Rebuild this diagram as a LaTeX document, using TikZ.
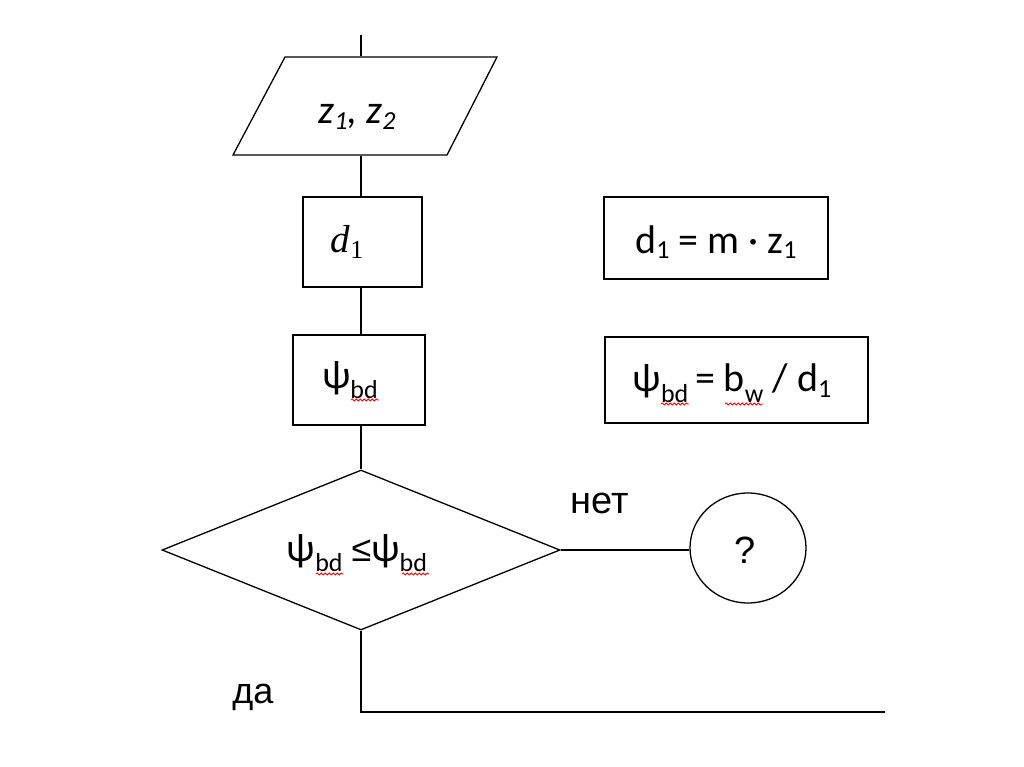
\documentclass[tikz,border=0pt]{standalone}
\usepackage{fontspec}
\setmainfont{Carlito}
\newfontfamily\arialf{Liberation Sans}
\newfontfamily\seriff{Liberation Serif}
\usetikzlibrary{shapes.geometric,decorations.pathmorphing}
\newcommand\sbs[1]{\raisebox{-0.3ex}{\fontsize{26}{30}\selectfont #1}}
\newcommand\sbb[1]{\raisebox{-0.55ex}{\fontsize{26}{30}\selectfont #1}}
\begin{document}
\begin{tikzpicture}[x=1pt,y=-1pt,
  line width=1.3pt,
  box/.style={draw, rectangle, inner sep=0pt},
  txt/.style={inner sep=0pt, font=\fontsize{40}{46}\selectfont},
  lbl/.style={inner sep=0pt, font=\arialf\fontsize{38}{44}\selectfont},
  squig/.style={red, line width=0.8pt, decorate, decoration={snake, amplitude=1.1pt, segment length=4pt}}]
\useasboundingbox (0,0) rectangle (1024,767);
\fill[white] (0,0) rectangle (1024,767);
% start
\coordinate (top) at (361,35);
% input parallelogram
\node[inner sep=0pt, minimum width=160, minimum height=98] (io) at (361,106) {};
\draw (285,57) -- (497,57) -- (447,155) -- (233,155) -- cycle;
\node[txt] (iot) at (357,117) {\textit{z\sbs{1}, z\sbs{2}}};
% process boxes
\node[box, minimum width=119, minimum height=90] (d) at (362.5,242) {};
\node[txt, font=\seriff\fontsize{39}{44}\selectfont] (dt) at (347,242) {\textit{d}\raisebox{-0.3ex}{\fontsize{26}{30}\selectfont 1}};
\node[box, minimum width=132, minimum height=90] (psi) at (359,380) {};
\node[txt] (psit) at (350,380) {ψ\sbb{bd}};
% formulas
\node[box, minimum width=224, minimum height=82] (f1) at (716,238) {};
\node[txt] (f1t) at (716,242) {d\sbs{1} = m · z\sbs{1}};
\node[box, minimum width=263, minimum height=86] (f2) at (736.5,380) {};
\node[txt] (f2t) at (732,383) {ψ\sbb{bd}\,= b\sbb{w} / d\sbs{1}};
% decision
\node[draw, diamond, inner sep=0pt, minimum width=398, minimum height=160] (dec) at (361,550) {};
\node[txt] (dect) at (357,553) {ψ\sbb{bd} {\arialf\fontsize{36}{42}\selectfont ≤}ψ\sbb{bd}};
% connector circle
\node[draw, ellipse, inner sep=0pt, minimum width=116, minimum height=110] (q) at (748,548) {};
\node[lbl] (qt) at (745,550) {?};
% labels
\node[lbl] (no) at (600,503) {нет};
\node[lbl, font=\arialf\fontsize{36}{42}\selectfont] (yes) at (253,697) {да};
\coordinate (end) at (885,712);
% connectors
\draw (top) -- (top |- io.north);
\draw (top |- io.south) -- (top |- d.north);
\draw (top |- d.south) -- (top |- psi.north);
\draw (top |- psi.south) -- (dec.north);
\draw (dec.east) -- (dec.east -| q.west);
\draw (dec.south) |- (end);
% spell-check marks
\draw[squig] (351,400) -- (379,400);
\draw[squig] (661,404) -- (689,404);
\draw[squig] (725,404) -- (763,404);
\draw[squig] (316,574) -- (343,574);
\draw[squig] (402,574) -- (429,574);
\end{tikzpicture}
\end{document}
